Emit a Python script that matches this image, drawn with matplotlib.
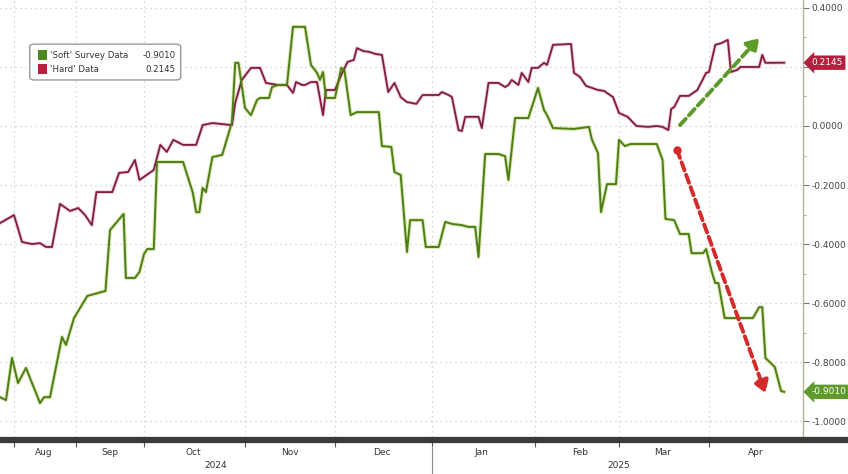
import numpy as np
import pandas as pd
import matplotlib
matplotlib.use("Agg")
import matplotlib.pyplot as plt
import matplotlib.dates as mdates
import matplotlib.transforms as mtransforms
from matplotlib.patches import FancyBboxPatch, Rectangle
from matplotlib.lines import Line2D

plt.rcParams['font.family'] = ['DejaVu Sans']

# 'Soft' survey data
soft_dates = [
    "2024-07-25", "2024-07-28", "2024-07-31", "2024-08-03", "2024-08-07", "2024-08-14",
    "2024-08-16", "2024-08-19", "2024-08-25", "2024-08-27", "2024-08-31", "2024-09-06",
    "2024-09-14", "2024-09-16", "2024-09-22", "2024-09-23", "2024-09-27", "2024-09-29",
    "2024-10-01", "2024-10-02", "2024-10-04", "2024-10-05", "2024-10-13", "2024-10-16",
    "2024-10-17", "2024-10-18", "2024-10-19", "2024-10-20", "2024-10-22", "2024-10-25",
    "2024-10-27", "2024-10-28", "2024-10-29", "2024-10-30", "2024-11-01", "2024-11-03",
    "2024-11-05", "2024-11-06", "2024-11-09", "2024-11-10", "2024-11-12", "2024-11-15",
    "2024-11-17", "2024-11-21", "2024-11-23", "2024-11-25", "2024-11-26", "2024-11-27",
    "2024-11-28", "2024-12-01", "2024-12-03", "2024-12-04", "2024-12-06", "2024-12-08",
    "2024-12-15", "2024-12-16", "2024-12-19", "2024-12-20", "2024-12-22", "2024-12-24",
    "2024-12-25", "2024-12-29", "2024-12-30", "2025-01-03", "2025-01-05", "2025-01-07",
    "2025-01-10", "2025-01-12", "2025-01-14", "2025-01-15", "2025-01-17", "2025-01-21",
    "2025-01-23", "2025-01-24", "2025-01-26", "2025-01-30", "2025-02-02", "2025-02-04",
    "2025-02-05", "2025-02-07", "2025-02-14", "2025-02-19", "2025-02-20", "2025-02-22",
    "2025-02-23", "2025-02-25", "2025-02-28", "2025-03-01", "2025-03-03", "2025-03-05",
    "2025-03-14", "2025-03-16", "2025-03-17", "2025-03-20", "2025-03-22", "2025-03-25",
    "2025-03-26", "2025-03-30", "2025-03-31", "2025-04-02", "2025-04-03", "2025-04-04",
    "2025-04-06", "2025-04-15", "2025-04-17", "2025-04-18", "2025-04-19", "2025-04-22",
    "2025-04-24", "2025-04-25",
]
soft_vals = [
    -0.919, -0.929, -0.786, -0.871, -0.820, -0.939,
    -0.919, -0.919, -0.715, -0.742, -0.651, -0.576,
    -0.559, -0.353, -0.298, -0.515, -0.515, -0.495,
    -0.434, -0.417, -0.417, -0.122, -0.122, -0.227,
    -0.292, -0.292, -0.210, -0.224, -0.105, -0.098,
    -0.024, 0.014, 0.214, 0.214, 0.061, 0.037,
    0.088, 0.095, 0.095, 0.132, 0.139, 0.139,
    0.336, 0.336, 0.207, 0.180, 0.156, 0.183,
    0.095, 0.095, 0.197, 0.190, 0.037, 0.047,
    0.047, -0.068, -0.071, -0.156, -0.166, -0.427,
    -0.319, -0.319, -0.410, -0.410, -0.325, -0.332,
    -0.336, -0.342, -0.342, -0.444, -0.095, -0.095,
    -0.102, -0.183, 0.027, 0.027, 0.129, 0.054,
    0.037, -0.007, -0.010, -0.003, -0.047, -0.092,
    -0.292, -0.197, -0.197, -0.047, -0.068, -0.061,
    -0.061, -0.115, -0.315, -0.319, -0.366, -0.366,
    -0.431, -0.431, -0.417, -0.498, -0.532, -0.532,
    -0.651, -0.651, -0.614, -0.614, -0.786, -0.817,
    -0.898, -0.901,
]

# 'Hard' data
hard_dates = [
    "2024-07-25", "2024-08-01", "2024-08-05", "2024-08-10", "2024-08-14", "2024-08-17",
    "2024-08-20", "2024-08-24", "2024-08-29", "2024-09-02", "2024-09-05", "2024-09-08",
    "2024-09-10", "2024-09-17", "2024-09-20", "2024-09-24", "2024-09-27", "2024-09-29",
    "2024-10-04", "2024-10-06", "2024-10-08", "2024-10-10", "2024-10-13", "2024-10-17",
    "2024-10-19", "2024-10-22", "2024-10-28", "2024-10-29", "2024-10-31", "2024-11-03",
    "2024-11-06", "2024-11-08", "2024-11-12", "2024-11-15", "2024-11-17", "2024-11-18",
    "2024-11-20", "2024-11-21", "2024-11-23", "2024-11-25", "2024-11-27", "2024-11-28",
    "2024-12-01", "2024-12-03", "2024-12-05", "2024-12-07", "2024-12-08", "2024-12-10",
    "2024-12-12", "2024-12-14", "2024-12-16", "2024-12-18", "2024-12-20", "2024-12-22",
    "2024-12-24", "2024-12-27", "2024-12-29", "2025-01-03", "2025-01-04", "2025-01-06",
    "2025-01-07", "2025-01-09", "2025-01-10", "2025-01-11", "2025-01-15", "2025-01-16",
    "2025-01-18", "2025-01-21", "2025-01-23", "2025-01-24", "2025-01-25", "2025-01-27",
    "2025-01-28", "2025-01-30", "2025-01-31", "2025-02-02", "2025-02-04", "2025-02-05",
    "2025-02-07", "2025-02-13", "2025-02-14", "2025-02-16", "2025-02-18", "2025-02-22",
    "2025-02-24", "2025-02-27", "2025-03-01", "2025-03-04", "2025-03-07", "2025-03-11",
    "2025-03-14", "2025-03-16", "2025-03-18", "2025-03-19", "2025-03-20", "2025-03-22",
    "2025-03-25", "2025-03-28", "2025-03-31", "2025-04-01", "2025-04-03", "2025-04-05",
    "2025-04-07", "2025-04-08", "2025-04-10", "2025-04-11", "2025-04-17", "2025-04-18",
    "2025-04-19", "2025-04-25",
]
hard_vals = [
    -0.329, -0.302, -0.393, -0.400, -0.397, -0.410,
    -0.410, -0.264, -0.288, -0.278, -0.302, -0.336,
    -0.224, -0.224, -0.159, -0.156, -0.115, -0.183,
    -0.149, -0.064, -0.088, -0.047, -0.064, -0.064,
    0.003, 0.010, 0.003, 0.078, 0.156, 0.197,
    0.197, 0.146, 0.139, 0.139, 0.112, 0.149,
    0.139, 0.139, 0.149, 0.149, 0.037, 0.122,
    0.122, 0.173, 0.217, 0.224, 0.264, 0.254,
    0.251, 0.244, 0.241, 0.115, 0.146, 0.098,
    0.081, 0.075, 0.105, 0.105, 0.115, 0.105,
    0.098, -0.014, -0.017, 0.031, 0.031, -0.007,
    0.146, 0.146, 0.132, 0.139, 0.156, 0.139,
    0.180, 0.149, 0.197, 0.197, 0.214, 0.207,
    0.275, 0.278, 0.180, 0.166, 0.136, 0.122,
    0.119, 0.098, 0.044, 0.031, 0.000, -0.003,
    0.000, -0.003, -0.014, 0.058, 0.064, 0.102,
    0.102, 0.122, 0.180, 0.183, 0.275, 0.281,
    0.292, 0.183, 0.190, 0.200, 0.200, 0.241,
    0.214, 0.2145,
]

soft_last = -0.9010
hard_last = 0.2145

# annotation arrows (start, end)
green_arrow = [("2025-03-22", 0.003), ("2025-04-17", 0.298)]
red_arrow = [("2025-03-21", -0.081), ("2025-04-19", -0.905)]

month_labels = ["Aug", "Sep", "Oct", "Nov", "Dec", "Jan", "Feb", "Mar", "Apr"]
month_starts = pd.date_range("2024-08-01", "2025-04-01", freq="MS")
yticks = [-1.0, -0.8, -0.6, -0.4, -0.2, 0.0, 0.2, 0.4]

GREEN = "#4e7d1b"
GREEN_GLOW = "#c3dc78"
RED = "#7c1f3c"
RED_GLOW = "#e995ab"

# the source chart has uneven month widths, reproduce them with a piecewise scale
anchor_dates = mdates.date2num(pd.date_range("2024-07-01", "2025-06-01", freq="MS"))
anchor_pos = np.array([-48, 14, 76, 144, 245, 335, 432, 535, 619, 709, 803, 897], dtype=float)


def fwd(x):
    return np.interp(x, anchor_dates, anchor_pos)


def inv(p):
    return np.interp(p, anchor_pos, anchor_dates)


fig = plt.figure(figsize=(8.48, 4.74), dpi=100)
ax = fig.add_axes([0, 1 - 437 / 474, 803 / 848, 437 / 474])

sd = pd.to_datetime(soft_dates)
hd = pd.to_datetime(hard_dates)

ax.plot(hd, hard_vals, color=RED_GLOW, lw=2.6, alpha=0.5, solid_joinstyle="round", zorder=3)
ax.plot(hd, hard_vals, color=RED, lw=1.3, solid_joinstyle="round", zorder=4)
ax.plot(sd, soft_vals, color=GREEN_GLOW, lw=2.8, alpha=0.6, solid_joinstyle="round", zorder=3)
ax.plot(sd, soft_vals, color=GREEN, lw=1.4, solid_joinstyle="round", zorder=4)

ax.set_xscale("function", functions=(fwd, inv))
ax.set_xlim(mdates.date2num(pd.Timestamp("2024-07-25")), mdates.date2num(pd.Timestamp("2025-05-01")))
ax.set_ylim(-1.054, 0.427)

# x ticks: month boundaries + centred month names
ax.set_xticks(mdates.date2num(month_starts))
ax.set_xticklabels([])
mids = mdates.date2num(month_starts + pd.Timedelta(days=15))
ax.set_xticks(mids, minor=True)
ax.set_xticklabels(month_labels, minor=True)
ax.tick_params(axis="x", which="major", length=7, width=0.8, color="#555", direction="out")
ax.tick_params(axis="x", which="minor", length=0, pad=8, labelsize=6.5, labelcolor="#333")

# y axis on the right (the 0.2000 label sits under the value box in the source)
ax.yaxis.tick_right()
ax.set_yticks(yticks)
ax.set_yticklabels(["" if abs(v - 0.2) < 1e-9 else f"{v:.4f}" for v in yticks])
ax.set_yticks(np.arange(-1.0, 0.41, 0.1), minor=True)
ax.tick_params(axis="y", which="major", length=4, color="#777", labelsize=6.5, labelcolor="#444", pad=2)
ax.tick_params(axis="y", which="minor", length=2.5, color="#999")

ax.grid(True, which="major", axis="both", color="#cacaca", ls=(0, (1, 3)), lw=0.9)
ax.set_axisbelow(True)

for s in ["left", "top", "bottom"]:
    ax.spines[s].set_visible(False)
ax.spines["right"].set_color("#b4b49a")
ax.spines["right"].set_linewidth(1)

# dark axis band across the whole width
band_y = 1 - 440 / 474
fig.add_artist(Line2D([0, 1], [band_y, band_y], transform=fig.transFigure,
                      color="#3a3a3a", lw=4.5, zorder=1))

# year labels and the separator
xt = mtransforms.blended_transform_factory(ax.transData, ax.transAxes)
ax.text(mdates.date2num(pd.Timestamp("2024-10-23")), -0.066, "2024", transform=xt,
        ha="center", va="center", fontsize=6.5, color="#333")
ax.text(mdates.date2num(pd.Timestamp("2025-03-01")), -0.066, "2025", transform=xt,
        ha="center", va="center", fontsize=6.5, color="#333")
jan = mdates.date2num(pd.Timestamp("2025-01-01"))
ax.plot([jan, jan], [-0.025, -0.09], transform=xt, color="#888", lw=0.8, clip_on=False)

# dashed arrows
for pts, col in [(green_arrow, "#5c9a2a"), (red_arrow, "#d42a2a")]:
    (d0, v0), (d1, v1) = pts
    x0 = mdates.date2num(pd.Timestamp(d0))
    x1 = mdates.date2num(pd.Timestamp(d1))
    ax.annotate("", xy=(x1, v1), xytext=(x0, v0),
                arrowprops=dict(arrowstyle="-|>,head_length=0.7,head_width=0.45",
                                color=col, lw=2.8, ls=(0, (2.2, 1.2)),
                                shrinkA=0, shrinkB=0), zorder=6)
rx = mdates.date2num(pd.Timestamp(red_arrow[0][0]))
ax.plot([rx], [red_arrow[0][1]], "o", color="#d42a2a", ms=5, zorder=7)

# last value boxes on the right axis
for val, col in [(hard_last, "#b3213f"), (soft_last, "#5f9a2c")]:
    ax.annotate(f"{val:.4f}", xy=(1, val), xycoords=("axes fraction", "data"),
                xytext=(6, 0), textcoords="offset points", ha="left", va="center",
                fontsize=6.5, color="white", annotation_clip=False,
                bbox=dict(boxstyle="larrow,pad=0.3", fc=col, ec="none"))

# legend box
ax.add_patch(FancyBboxPatch((0.037, 0.817), 0.188, 0.082, transform=ax.transAxes,
                            boxstyle="round,pad=0,rounding_size=0.006",
                            fc="white", ec="#9a9a9a", lw=1, zorder=8))
rows = [("'Soft' Survey Data", soft_last, "#4b8a1f", 0.874),
        ("'Hard' Data", hard_last, "#b3213f", 0.842)]
for name, val, col, yy in rows:
    ax.add_patch(Rectangle((0.047, yy - 0.011), 0.011, 0.022, transform=ax.transAxes,
                           fc=col, ec="none", zorder=9))
    ax.text(0.062, yy, name, transform=ax.transAxes, ha="left", va="center",
            fontsize=6.2, color="#333", zorder=9)
    ax.text(0.219, yy, f"{val:.4f}", transform=ax.transAxes, ha="right", va="center",
            fontsize=6.2, color="#333", zorder=9)

fig.savefig("out.png", dpi=100)
